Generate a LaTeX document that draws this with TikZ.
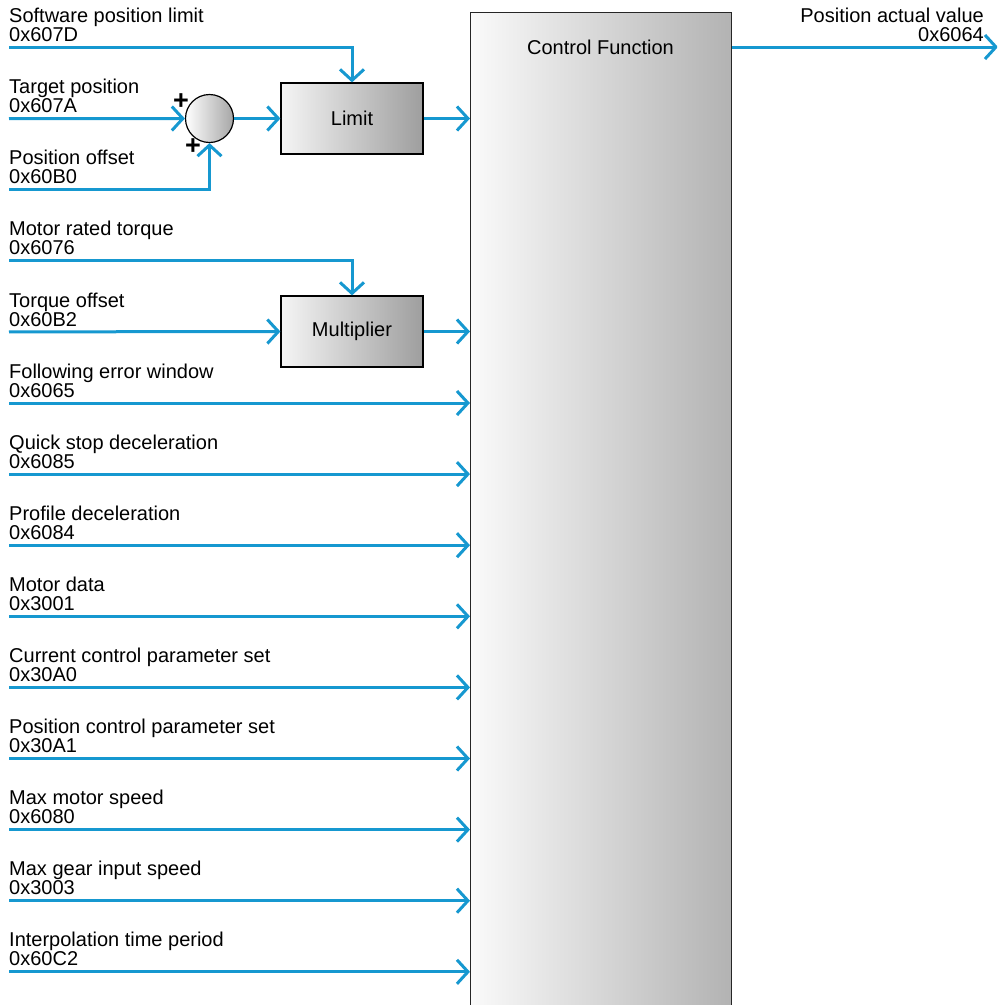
\documentclass[tikz,border=0pt]{standalone}
\usepackage{fontspec}
\setmainfont{Liberation Sans}
\usetikzlibrary{arrows.meta,calc}
\definecolor{cblue}{RGB}{22,152,208}
\begin{document}
\begin{tikzpicture}[x=1pt,y=-1pt,
  every node/.style={font=\fontsize{20}{19}\selectfont},
  arr/.style={draw=cblue, line width=3pt, -{Straight Barb[length=11pt,width=24pt]}},
  lbl/.style={anchor=south west, inner sep=0pt, align=left},
  blk/.style={draw=black, line width=1.2pt, left color=white!96!black, right color=black!38, minimum width=142pt, inner sep=0pt},
  cbox/.style={draw=black!85, line width=1.4pt, left color=white!98!black, right color=black!30, minimum width=261pt, minimum height=1010pt, anchor=north west, inner sep=0pt},
  sumnode/.style={circle, draw=black, line width=1.2pt, left color=white, right color=black!35, minimum size=48pt, inner sep=0pt},
  plus/.style={inner sep=0pt, font=\fontsize{27}{27}\selectfont\bfseries}]
\path[use as bounding box, clip] (0,0) rectangle (997,1005);

% main control box
\node[cbox] (ctrl) at (470,12) {};
\node (ctrltitle) at (600.5,47) {Control Function};

% inputs
\foreach \k/\a/\b in {0/Software position limit/0x607D,
  1/Target position/0x607A,
  2/Position offset/0x60B0,
  3/Motor rated torque/0x6076,
  4/Torque offset/0x60B2,
  5/Following error window/0x6065,
  6/Quick stop deceleration/0x6085,
  7/Profile deceleration/0x6084,
  8/Motor data/0x3001,
  9/Current control parameter set/0x30A0,
  10/Position control parameter set/0x30A1,
  11/Max motor speed/0x6080,
  12/Max gear input speed/0x3003,
  13/Interpolation time period/0x60C2}{
  \coordinate (in\k) at (9,{47.5+71.1*\k});
  \node[lbl] (lab\k) at ($(in\k)+(0,-5.5)$) {\a\\\b};
}

% blocks
\node[sumnode] (sum) at (209.5,118.5) {};
\node[plus] (plus1) at (181,102) {+};
\node[plus] (plus2) at (193,147) {+};
\node[blk, minimum height=71pt] (limit) at (352,118.5) {Limit};
\node[blk, minimum height=71pt] (mult) at (352,331.5) {Multiplier};

% connectors
\draw[arr] (in0) -- (in0 -| limit.north) -- (limit.north);
\draw[arr] (in1) -- (sum.west);
\draw[arr] (in2) -- (in2 -| sum.south) -- (sum.south);
\draw[arr] (sum.east) -- (limit.west);
\draw[arr] (limit.east) -- (limit.east -| ctrl.west);
\draw[arr] (in3) -- (in3 -| mult.north) -- (mult.north);
\draw[arr] (in4) -- (mult.west);
\draw[arr] (mult.east) -- (mult.east -| ctrl.west);
\foreach \k in {5,...,13}{
  \draw[arr] (in\k) -- (in\k -| ctrl.west);
}

% output
\coordinate (outend) at (998,47);
\draw[arr] (ctrl.east |- outend) -- (outend);
\node[anchor=south east, inner sep=0pt, align=right] (outlab) at (984,42) {Position actual value\\0x6064};
\end{tikzpicture}
\end{document}
